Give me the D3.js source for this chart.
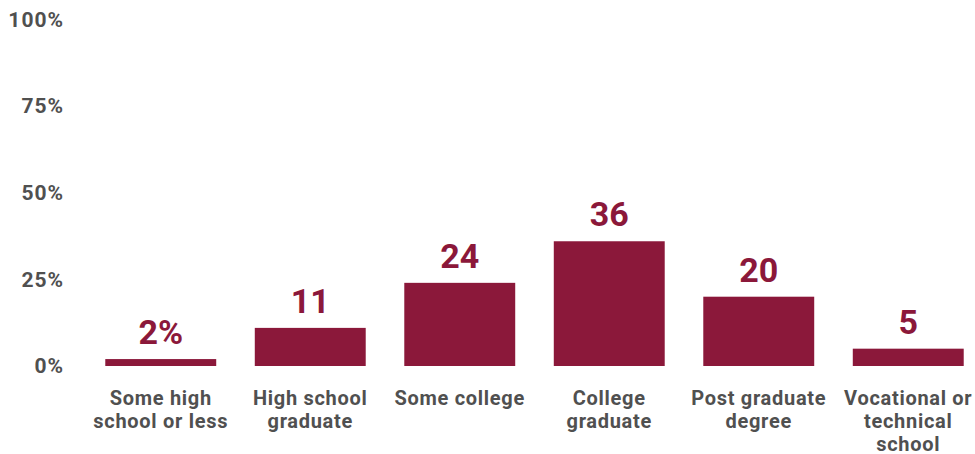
<!DOCTYPE html>
<html>
<head>
<meta charset="utf-8">
<script src="https://cdn.jsdelivr.net/npm/d3@7"></script>
<style>
  html, body { margin: 0; padding: 0; background: #fff; }
  svg { display: block; }
  text { font-family: Roboto, "DejaVu Sans", sans-serif; font-weight: 700; }
</style>
</head>
<body>
<svg id="chart" width="975" height="454"></svg>
<script>
// Education level of respondents (% of total)
const categories = [
  ["Some high", "school or less"],
  ["High school", "graduate"],
  ["Some college"],
  ["College", "graduate"],
  ["Post graduate", "degree"],
  ["Vocational or", "technical", "school"]
];
const values = [2, 11, 24, 36, 20, 5];
const valueLabels = ["2%", "11", "24", "36", "20", "5"];
const yTicks = [0, 25, 50, 75, 100];
const yTickLabels = ["0%", "25%", "50%", "75%", "100%"];

const barColor = "#8b183a";
const textColor = "#505050";

const svg = d3.select("#chart");

const x = d3.scaleBand()
  .domain(d3.range(values.length))
  .range([86, 983])
  .paddingInner(0.258)
  .paddingOuter(0.129);

const y = d3.scaleLinear().domain([0, 100]).range([366, 19.5]);

// y-axis labels (no axis line, no ticks)
const yAxis = d3.axisLeft(y)
  .tickValues(yTicks)
  .tickFormat((d, i) => yTickLabels[i])
  .tickSize(0)
  .tickPadding(0);

const yg = svg.append("g").attr("transform", "translate(64,0)").call(yAxis);
yg.select(".domain").remove();
yg.selectAll("text")
  .attr("fill", textColor)
  .style("font-size", "21px")
  .style("letter-spacing", "1px")
  .style("font-family", "Roboto, 'DejaVu Sans', sans-serif")
  .style("font-weight", 700);

// bars
svg.append("g").selectAll("rect")
  .data(values)
  .join("rect")
  .attr("x", (d, i) => x(i))
  .attr("width", x.bandwidth())
  .attr("y", d => y(d))
  .attr("height", d => y(0) - y(d))
  .attr("fill", barColor);

// value labels above bars
svg.append("g").selectAll("text")
  .data(values)
  .join("text")
  .attr("x", (d, i) => x(i) + x.bandwidth() / 2)
  .attr("y", d => y(d) - 15)
  .attr("text-anchor", "middle")
  .attr("fill", barColor)
  .style("font-size", "34px")
  .text((d, i) => valueLabels[i]);

// category labels
const cat = svg.append("g").selectAll("text")
  .data(categories)
  .join("text")
  .attr("text-anchor", "middle")
  .attr("fill", textColor)
  .style("font-size", "20px")
  .style("letter-spacing", "0.7px")
  .attr("x", (d, i) => x(i) + x.bandwidth() / 2)
  .attr("y", 405);

cat.selectAll("tspan")
  .data(d => d)
  .join("tspan")
  .attr("x", function () { return d3.select(this.parentNode).attr("x"); })
  .attr("dy", (d, j) => j === 0 ? 0 : 23)
  .text(d => d);
</script>
</body>
</html>
